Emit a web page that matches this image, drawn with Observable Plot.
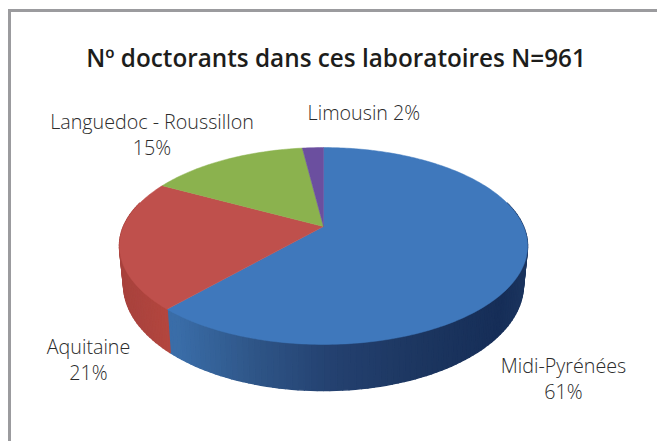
<!DOCTYPE html>
<html lang="fr">
<head>
<meta charset="utf-8">
<script src="https://cdn.jsdelivr.net/npm/d3@7"></script>
<script src="https://cdn.jsdelivr.net/npm/@observablehq/plot@0.6"></script>
<style>
  html, body { margin: 0; padding: 0; background: #fff; }
  #page { position: relative; width: 657px; height: 441px; overflow: hidden; }
  #frame { position: absolute; left: 8px; top: 9px; right: -10px; bottom: -10px;
           border-left: 3px solid #9b9b9e; border-top: 3px solid #9b9b9e; pointer-events: none; }
  h1 { margin: 0; height: 80px; box-sizing: border-box; padding: 40px 0 0 15px; text-align: center;
       font: 600 24.3px/36px "Open Sans", sans-serif; color: #1d1d1b; white-space: nowrap; }
  svg { display: block; }
</style>
</head>
<body>
<div id="page">
  <div id="frame"></div>
  <h1 id="title"></h1>
  <div id="chart"></div>
</div>
<script>
const chartTitle = "Nº doctorants dans ces laboratoires N=961";
const regions = ["Midi-Pyrénées", "Aquitaine", "Languedoc - Roussillon", "Limousin"];
const shares  = [61, 21, 15, 2];
const topColors = ["#3f78bc", "#bf504c", "#8bb24e", "#6b4f9f"];

document.getElementById("title").textContent = chartTitle;

// Perspective view of the disc: (u, v) on the unit circle to page pixels
const cx = 323, cy = 226, R = 200, S = 94.6, k = 0.198, D = 37, shrink = 0.98;
const rim = (a, r = 1) => {
  const u = r * Math.sin(a), v = -r * Math.cos(a), w = 1 - k * v;
  return {x: cx + R * u / w, y: cy + S * v / w};
};
const rimLow = (a) => {
  const v = -Math.cos(a), w = 1 - k * v, p = rim(a);
  return {x: cx + (p.x - cx) * shrink, y: p.y + D / w};
};

const arcs = d3.pie().sort(null).value((d) => d)(shares);
const deg = Math.PI / 180;

// Top face wedges
const wedgeRows = arcs.flatMap((arc, i) => {
  const angles = d3.range(arc.startAngle, arc.endAngle, deg).concat(arc.endAngle);
  return [{x: cx, y: cy}, ...angles.map((a) => rim(a)), {x: cx, y: cy}]
    .map((p) => ({...p, region: regions[i], color: topColors[i]}));
});

// Side wall facets, shaded along the rim
const blueWall = d3.scaleLinear()
  .domain([175, 250, 330, 420, 500, 525])
  .range(["#3a6da8", "#2f5688", "#244170", "#1c3660", "#162e58", "#1b345e"])
  .clamp(true);
const redWall = d3.scaleLinear().domain([120, 175]).range(["#a8423d", "#b5473f"]).clamp(true);
const wallRows = arcs.flatMap((arc, i) => {
  const from = Math.max(arc.startAngle, 75 * deg), to = Math.min(arc.endAngle, 285 * deg);
  if (from >= to) return [];
  const angles = d3.range(from, to, 1.5 * deg).concat(to);
  return d3.pairs(angles).flatMap(([a, b], j) => {
    const mid = rim((a + b) / 2).x;
    const color = i === 0 ? blueWall(mid) : redWall(mid);
    return [rim(a), rim(b), rimLow(b), rimLow(a)].map((p) => ({...p, facet: `${i}-${j}`, color}));
  });
});

// Labels hang off each slice's mid angle
const labelOffsets = [
  {dx: 39, dy: 115}, {dx: -31, dy: 115}, {dx: -74, dy: -26}, {dx: 51, dy: -36}
];
const labelRows = arcs.map((arc, i) => {
  const p = rim((arc.startAngle + arc.endAngle) / 2);
  const o = labelOffsets[i];
  const oneLine = regions[i] === "Limousin";
  return {
    x: p.x + o.dx, y: p.y + o.dy,
    text: oneLine ? `${regions[i]} ${shares[i]}%` : `${regions[i]}\n${shares[i]}%`
  };
});

const chart = Plot.plot({
  width: 657, height: 361,
  margin: 0,
  x: {domain: [0, 657], axis: null},
  y: {domain: [80, 441], range: [0, 361], axis: null},
  color: {type: "identity"},
  style: {background: "transparent"},
  marks: [
    Plot.line(wallRows, {x: "x", y: "y", z: "facet", fill: "color", stroke: "color", strokeWidth: 1.4, curve: "linear-closed"}),
    Plot.line(wedgeRows, {x: "x", y: "y", z: "region", fill: "color", stroke: "color", strokeWidth: 0.5, curve: "linear-closed"}),
    Plot.text(labelRows, {
      x: "x", y: "y", text: "text",
      fontFamily: "'Open Sans', sans-serif", fontWeight: 300, fontSize: 19.7,
      lineHeight: 1.31, fill: "#2b2b2b", textAnchor: "middle"
    })
  ]
});
document.getElementById("chart").appendChild(chart);
</script>
</body>
</html>
